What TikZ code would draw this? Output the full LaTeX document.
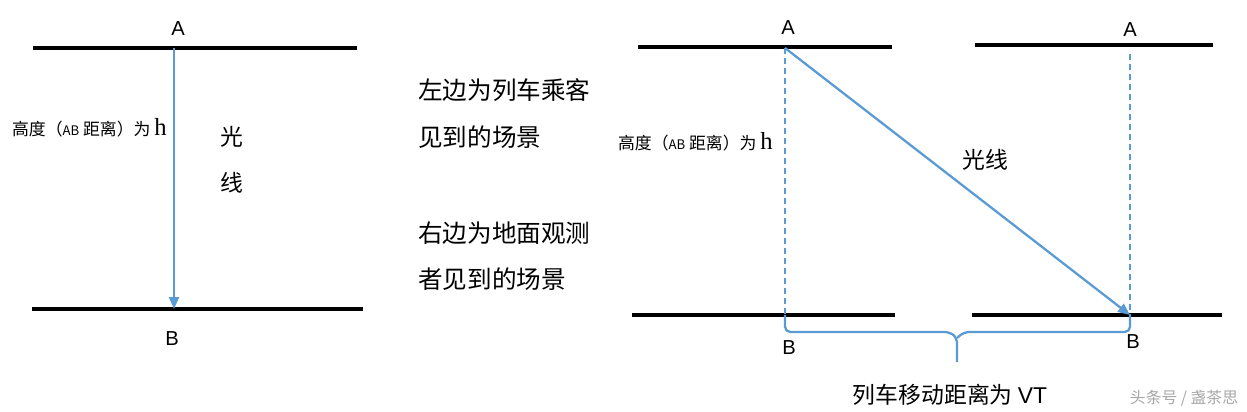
\documentclass[tikz,border=0pt]{standalone}
\usepackage{fontspec}
\setmainfont{Liberation Sans}
\newfontfamily\cjk{Noto Sans CJK SC}
\newfontfamily\hserif{Liberation Serif}
\usetikzlibrary{arrows.meta}
\definecolor{rayblue}{HTML}{5B9BD5}
\newcommand{\heightlabel}{{\cjk\fontsize{9.6}{12}\selectfont 高度（{\fontsize{7.5}{9}\selectfont AB} 距离）为 {\hserif\fontsize{14}{14}\selectfont h}}}
\begin{document}
\begin{tikzpicture}[x=0.02cm,y=-0.02cm,
    floor/.style={line width=2.3pt, black},
    ray/.style={line width=1.3pt, rayblue, -{Triangle[length=0.24cm,width=0.2cm]}},
    guide/.style={line width=0.9pt, rayblue, dash pattern=on 0.12cm off 0.08cm},
    pt/.style={font=\fontsize{11.5}{13}\selectfont, inner sep=0pt},
    cn/.style={font=\cjk\fontsize{13}{15}\selectfont, inner sep=0pt},
    note/.style={font=\cjk\fontsize{14}{16}\selectfont, inner sep=0pt, anchor=west}]
    \useasboundingbox (0,0) rectangle (1247,412);

    % left: seen from the train
    \draw[floor] (33,48) -- (357,48);
    \draw[floor] (32,309) -- (363,309);
    \coordinate (A1) at (174,48);
    \coordinate (B1) at (174,309);
    \node[pt] (la1) at (178,29) {A};
    \node[pt] (lb1) at (172,339) {B};
    \draw[ray] (A1) -- (B1);
    \node[anchor=east, inner sep=0pt] (h1) at (167,128) {\heightlabel};
    \node[cn] (g1) at (232,137) {光};
    \node[cn] (x1) at (232,183) {线};

    % middle notes
    \node[note] (n1) at (418,90) {左边为列车乘客};
    \node[note] (n2) at (418,137) {见到的场景};
    \node[note] (n3) at (418,233) {右边为地面观测};
    \node[note] (n4) at (418,279) {者见到的场景};

    % right: seen from the ground
    \draw[floor] (638,47) -- (892,47);
    \draw[floor] (632,315) -- (895,315);
    \draw[floor] (975,45) -- (1213,45);
    \draw[floor] (972,315) -- (1222,315);
    \coordinate (A2) at (785,48);
    \coordinate (B2) at (785,315);
    \coordinate (A3) at (1130,54);
    \coordinate (B3) at (1130,315);
    \node[pt] (la2) at (788,28) {A};
    \node[pt] (lb2) at (789,348) {B};
    \node[pt] (la3) at (1130,30) {A};
    \node[pt] (lb3) at (1133,342) {B};
    \draw[guide] (A2) -- (B2);
    \draw[guide] (A3) -- (B3);
    \draw[ray] (A2) -- (B3);
    \node[anchor=east, inner sep=0pt] (h2) at (773,142) {\heightlabel};
    \node[cn] (g2) at (985,160) {光线};

    % distance travelled
    \draw[line width=1.3pt, rayblue, rounded corners=3pt] (B2) -- (785,332) -- (950,332) -- (957,338) -- (957,362);
    \draw[line width=1.3pt, rayblue, rounded corners=3pt] (957,338) -- (964,332) -- (1130,332) -- (B3);
    \node[cn] (vt) at (950,395) {列车移动距离为 {\fontspec{Liberation Sans}VT}};
    \node[font=\cjk\fontsize{9}{10}\selectfont, text=black!35, inner sep=0pt] (wm) at (1184,398) {头条号 / 盏茶思};
\end{tikzpicture}
\end{document}
